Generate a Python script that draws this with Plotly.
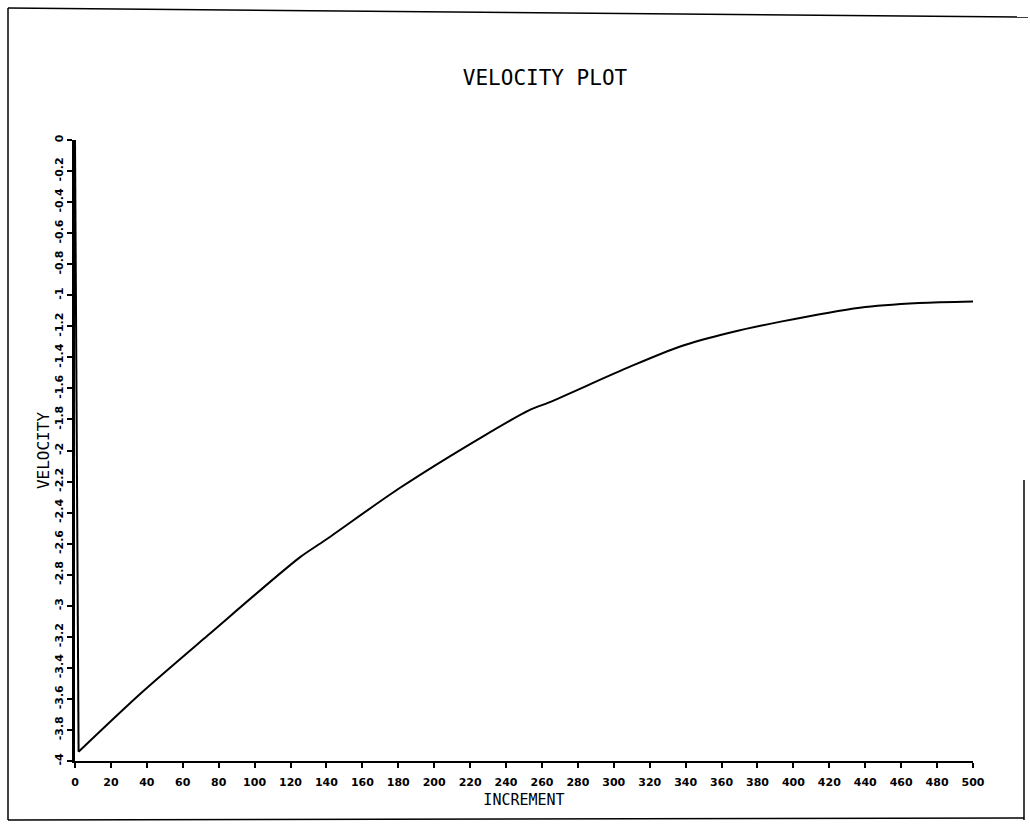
import plotly.graph_objects as go

# Velocity history over the solution increments
increment = [0, 2, 37, 74, 125, 139, 181, 227, 253, 264, 309, 337, 365, 393, 437, 470, 500]
velocity = [0, -3.94, -3.56, -3.19, -2.69, -2.58, -2.24, -1.91, -1.74, -1.69,
             -1.46, -1.33, -1.24, -1.17, -1.08, -1.05, -1.04]

x_ticks = list(range(0, 501, 20))
y_ticks = [round(-0.2 * i, 1) for i in range(21)]
y_tick_text = ["0" if v == 0 else (f"{v:g}") for v in y_ticks]

W, H = 1030, 827
L, R, T, B = 75, 57, 140, 66
pw, ph = W - L - R, H - T - B


def px(x):
    return (x - L) / pw


def py(y):
    return (H - B - y) / ph


fig = go.Figure()
# initial drop from rest, then the smooth recovery
fig.add_trace(go.Scatter(
    x=increment[:2], y=velocity[:2], mode="lines",
    line=dict(color="black", width=2),
    showlegend=False, hoverinfo="skip",
))
fig.add_trace(go.Scatter(
    x=increment[1:], y=velocity[1:], mode="lines",
    line=dict(color="black", width=2, shape="spline", smoothing=0.8),
    showlegend=False, hoverinfo="skip",
))

tick_font = dict(family="DejaVu Sans", size=11, color="black", weight="bold")

fig.update_layout(
    width=W, height=H,
    margin=dict(l=L, r=R, t=T, b=B),
    paper_bgcolor="white", plot_bgcolor="white",
    title=dict(text="VELOCITY PLOT", x=545 / W, xanchor="center",
               y=1 - 78 / H, yanchor="middle",
               font=dict(family="DejaVu Sans Mono", size=21, color="black")),
    xaxis=dict(
        range=[0, 500], tickmode="array", tickvals=x_ticks,
        ticks="outside", ticklen=5, tickwidth=1.5, tickcolor="black",
        ticklabelstandoff=5,
        showline=True, linecolor="black", linewidth=2,
        showgrid=False, zeroline=False, tickfont=tick_font,
        title=dict(text="INCREMENT",
                   font=dict(family="DejaVu Sans Mono", size=15, color="black"),
                   standoff=6),
    ),
    yaxis=dict(
        range=[-4, 0], tickmode="array", tickvals=y_ticks, ticktext=y_tick_text,
        tickangle=-90,
        ticks="outside", ticklen=5, tickwidth=1.5, tickcolor="black",
        showline=True, linecolor="black", linewidth=2.5,
        showgrid=False, zeroline=False, tickfont=tick_font,
        title=dict(text="VELOCITY",
                   font=dict(family="DejaVu Sans Mono", size=16, color="black"),
                   standoff=0),
    ),
)

# Page frame around the plot
frame = [
    ((8, 8), (1028, 17)),
    ((8, 8), (8, 820)),
    ((8, 820), (1024, 818)),
    ((1024, 480), (1024, 820)),
]
for (x0, y0), (x1, y1) in frame:
    fig.add_shape(type="line", xref="paper", yref="paper",
                  x0=px(x0), y0=py(y0), x1=px(x1), y1=py(y1),
                  line=dict(color="black", width=1.5))

fig.write_html("out.html")
